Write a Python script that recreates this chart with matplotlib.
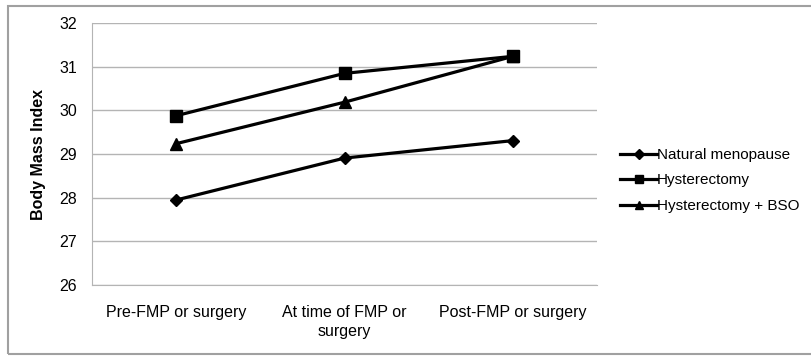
import matplotlib
matplotlib.use("Agg")
import matplotlib.pyplot as plt
from matplotlib.lines import Line2D

plt.rcParams["font.family"] = ["Liberation Sans", "DejaVu Sans"]

categories = ["Pre-FMP or surgery", "At time of FMP or\nsurgery", "Post-FMP or surgery"]
natural = [27.95, 28.91, 29.31]
hysterectomy = [29.88, 30.85, 31.24]
hyst_bso = [29.24, 30.19, 31.24]

series = [
    ("Natural menopause", natural, "D", 6),
    ("Hysterectomy", hysterectomy, "s", 8),
    ("Hysterectomy + BSO", hyst_bso, "^", 8),
]

GRID = "#b4b4b4"
FS = 11.5

fig = plt.figure(figsize=(8.12, 3.56), dpi=100)
ax = fig.add_axes([0.1133, 0.199, 0.6220, 0.736])

xs = range(len(categories))
for label, vals, marker, ms in series:
    ax.plot(xs, vals, color="black", linewidth=2.3, marker=marker,
            markersize=ms, label=label, zorder=3)

ax.set_xlim(-0.5, len(categories) - 0.5)
ax.set_ylim(26, 32)
ax.set_yticks(range(26, 33))
ax.set_xticks(list(xs))
ax.set_xticklabels(categories, fontsize=FS, linespacing=1.35)
ax.tick_params(axis="y", labelsize=FS, length=0, pad=11)
ax.tick_params(axis="x", length=0, pad=14)
ax.grid(axis="y", color=GRID, linewidth=1)
ax.set_axisbelow(True)
for s in ["top", "right"]:
    ax.spines[s].set_visible(False)
ax.spines["left"].set_color(GRID)
ax.spines["bottom"].set_color(GRID)
ax.set_ylabel("Body Mass Index", fontsize=FS, fontweight="bold", labelpad=9)

leg_handles = [Line2D([0], [0], color="black", linewidth=2.3, marker=m, markersize=ms * 0.8)
               for _, _, m, ms in series]
fig.legend(leg_handles, [s[0] for s in series], loc="center left",
           bbox_to_anchor=(0.747, 0.493), frameon=False, fontsize=11,
           handlelength=2.4, handletextpad=0.0, labelspacing=0.75)

# outer frame
fig.add_artist(plt.Rectangle((8 / 812, 2 / 356), 810 / 812, 348 / 356,
                             transform=fig.transFigure, fill=False,
                             edgecolor="#a0a0a0", linewidth=1.5))

fig.savefig("out.png", dpi=100)
